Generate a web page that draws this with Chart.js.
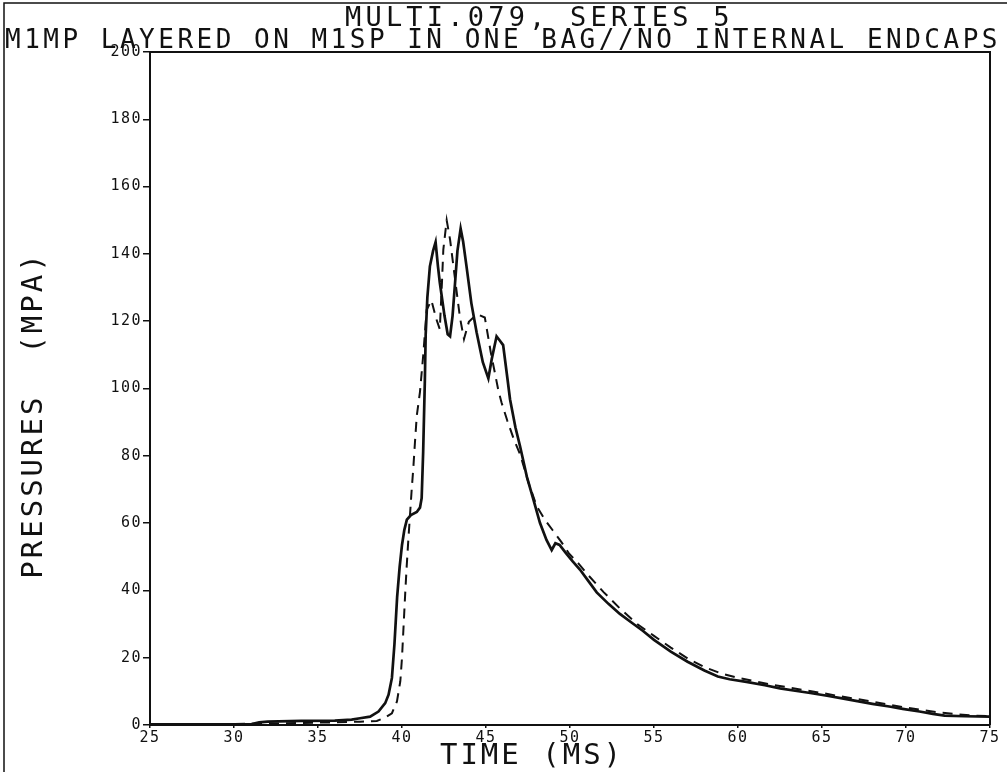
<!DOCTYPE html>
<html>
<head>
<meta charset="utf-8">
<title>MULTI.079, SERIES 5</title>
<script src="https://cdn.jsdelivr.net/npm/chart.js@4.4.0/dist/chart.umd.min.js"></script>
<style>
  html, body { margin: 0; padding: 0; background: #fff; }
  #wrap { width: 1007px; height: 772px; }
</style>
</head>
<body>
<div id="wrap"><canvas id="chart" width="1007" height="772"></canvas></div>
<script>
// solid trace (ms, MPa)
const solidTime = [25, 31, 31.5, 32, 34, 36, 37, 37.5, 38.1, 38.6, 39.0, 39.2, 39.4, 39.55, 39.71,
  39.86, 40.0, 40.14, 40.29, 40.53, 40.88, 41.07, 41.17, 41.26, 41.36, 41.41, 41.51, 41.66, 41.85, 42.0,
  42.14, 42.25, 42.53, 42.72, 42.86, 43.01, 43.16, 43.3, 43.49, 43.64, 43.84, 44.13, 44.44, 44.81, 45.14,
  45.34, 45.63, 45.83, 46.02, 46.27, 46.43, 46.75, 47.02, 47.43, 47.81, 48.21, 48.6, 48.91, 49.13, 49.38,
  49.77, 50.16, 50.59, 51.12, 51.59, 52.29, 52.97, 53.84, 54.33, 55, 56, 57, 58, 58.8, 59.5,
  60.5, 61.6, 62.5, 63.5, 64.3, 65.3, 66.2, 67.1, 68, 69, 69.8, 70.8, 71.6, 72.3, 73.5, 75];
const solidPressure = [0.2, 0.2, 0.8, 1.0, 1.2, 1.3, 1.6, 2.0, 2.5, 4, 6.5, 9, 14, 24, 38,
  47, 53.5, 58, 61, 62.4, 63.3, 64.6, 67.4, 81.2, 102.3, 116.1, 127.1, 136.3, 140.9, 143.5,
  136.3, 131.5, 121.6, 116.1, 115.5, 121.6, 131.5, 140.9, 147.5, 143.6, 136.3, 125.3, 116.7, 107.8, 103,
  108.7, 115.5, 114.2, 112.9, 103.2, 96.8, 88.5, 83, 73.8, 67.2, 60.1, 55, 52, 54, 53.5,
  51, 48.6, 46.2, 42.6, 39.4, 36, 33, 29.8, 28, 25.3, 21.8, 18.8, 16.2, 14.4, 13.6,
  12.8, 11.8, 10.9, 10.1, 9.5, 8.7, 7.9, 7.1, 6.3, 5.5, 4.8, 4.0, 3.3, 2.8, 2.6, 2.5];

// dashed trace
const dashedTime = [25, 30, 33, 36, 37.5, 38.5, 39.0, 39.4, 39.7, 39.9, 40.0, 40.1, 40.2, 40.28, 40.37,
  40.58, 40.67, 40.77, 40.88, 41.07, 41.26, 41.47, 41.75, 42.04, 42.25, 42.38, 42.46, 42.66, 42.86, 43.16,
  43.45, 43.69, 43.98, 44.46, 44.93, 45.29, 45.73, 45.92, 46.27, 46.66, 47.04, 47.53, 48.01, 48.5, 48.98,
  49.47, 49.95, 50.5, 51, 52, 53, 54, 55, 56, 57, 58, 59, 60, 61, 62, 63, 64, 65, 66, 67, 68, 69, 70, 71, 72, 73, 74, 75];
const dashedPressure = [0.2, 0.3, 0.5, 0.8, 1.0, 1.2, 2.2, 3.5, 7, 13, 20, 30, 40, 47.2, 54.5,
  70.2, 76.1, 83.9, 91.9, 99, 109.7, 123.4, 126.2, 120.7, 117.6, 131.7, 141.3, 150, 144.3, 132.4,
  121.1, 114.7, 119.8, 122.1, 121.1, 110.6, 99.6, 95.9, 90.4, 84.9, 80.3, 72, 65.1, 61, 57.8,
  54.5, 50.9, 48, 45, 39.5, 34.5, 30, 26.5, 23, 19.8, 17.2, 15.3, 14, 13, 12, 11.2, 10.3, 9.5, 8.6, 7.8, 6.9, 6, 5.2, 4.4, 3.7, 3.2, 2.8, 2.6];

const xTicks = [25, 30, 35, 40, 45, 50, 55, 60, 65, 70, 75];
const yTicks = [0, 20, 40, 60, 80, 100, 120, 140, 160, 180, 200];

const titleText = 'MULTI.079, SERIES 5';
const subtitleText = 'M1MP LAYERED ON M1SP IN ONE BAG//NO INTERNAL ENDCAPS';
const xTitle = 'TIME (MS)';
const yTitle = 'PRESSURES  (MPA)';

const ink = '#111';
const mono = '"DejaVu Sans Mono", "Liberation Mono", monospace';

// plotter lettering: wide letters, titles set where the plotter put them,
// box closed on top and right
const plotter = {
  id: 'plotter',
  beforeUpdate(chart) { chart.ctx.letterSpacing = '1.5px'; },
  beforeDraw(chart) { chart.ctx.letterSpacing = '1.5px'; },
  afterDraw(chart) {
    const { ctx, chartArea: a } = chart;
    ctx.save();
    ctx.strokeStyle = ink;
    ctx.lineWidth = 2;
    ctx.beginPath();
    ctx.moveTo(a.left, a.top);
    ctx.lineTo(a.right, a.top);
    ctx.lineTo(a.right, a.bottom);
    ctx.stroke();

    // edge of the scanned sheet
    ctx.lineWidth = 1.5;
    ctx.beginPath();
    ctx.moveTo(4, 772);
    ctx.lineTo(4, 3);
    ctx.lineTo(1007, 3);
    ctx.stroke();

    ctx.fillStyle = ink;
    ctx.textBaseline = 'alphabetic';
    ctx.textAlign = 'left';
    ctx.letterSpacing = '4.2px';
    ctx.font = '27px ' + mono;
    ctx.fillText(titleText, 345, 26);
    ctx.letterSpacing = '3.5px';
    ctx.font = '26px ' + mono;
    ctx.fillText(subtitleText, 5, 47.5);

    ctx.letterSpacing = '3px';
    ctx.font = '29px ' + mono;
    ctx.textAlign = 'center';
    ctx.fillText(xTitle, 532, 764);
    ctx.translate(42, 415);
    ctx.rotate(-Math.PI / 2);
    ctx.fillText(yTitle, 0, 0);
    ctx.restore();
  }
};

const toPoints = (xs, ys) => xs.map((x, i) => ({ x: x, y: ys[i] }));

new Chart(document.getElementById('chart'), {
  type: 'line',
  data: {
    datasets: [
      {
        data: toPoints(solidTime, solidPressure),
        borderColor: ink,
        borderWidth: 2.7,
        pointRadius: 0,
        tension: 0
      },
      {
        data: toPoints(dashedTime, dashedPressure),
        borderColor: ink,
        borderWidth: 2,
        borderDash: [10, 7],
        pointRadius: 0,
        tension: 0
      }
    ]
  },
  options: {
    responsive: false,
    animation: false,
    layout: { padding: { left: 0, right: 17, top: 52, bottom: 0 } },
    plugins: {
      legend: { display: false },
      tooltip: { enabled: false },
      title: { display: false },
      subtitle: { display: false }
    },
    scales: {
      x: {
        type: 'linear',
        min: 25,
        max: 75,
        afterBuildTicks: s => { s.ticks = xTicks.map(v => ({ value: v })); },
        afterFit: s => { s.height = 47; },
        border: { color: ink, width: 2 },
        grid: { drawOnChartArea: false, color: ink, lineWidth: 1.5, tickLength: 3 },
        ticks: { color: ink, font: { family: mono, size: 15, lineHeight: 1 }, padding: 3, maxRotation: 0, autoSkip: false }
      },
      y: {
        type: 'linear',
        min: 0,
        max: 200,
        afterBuildTicks: s => { s.ticks = yTicks.map(v => ({ value: v })); },
        afterFit: s => { s.width = 150; },
        border: { color: ink, width: 2 },
        grid: { drawOnChartArea: false, color: ink, lineWidth: 1.5, tickLength: 7 },
        ticks: { color: ink, font: { family: mono, size: 15 }, padding: 1, autoSkip: false }
      }
    }
  },
  plugins: [plotter]
});
</script>
</body>
</html>
